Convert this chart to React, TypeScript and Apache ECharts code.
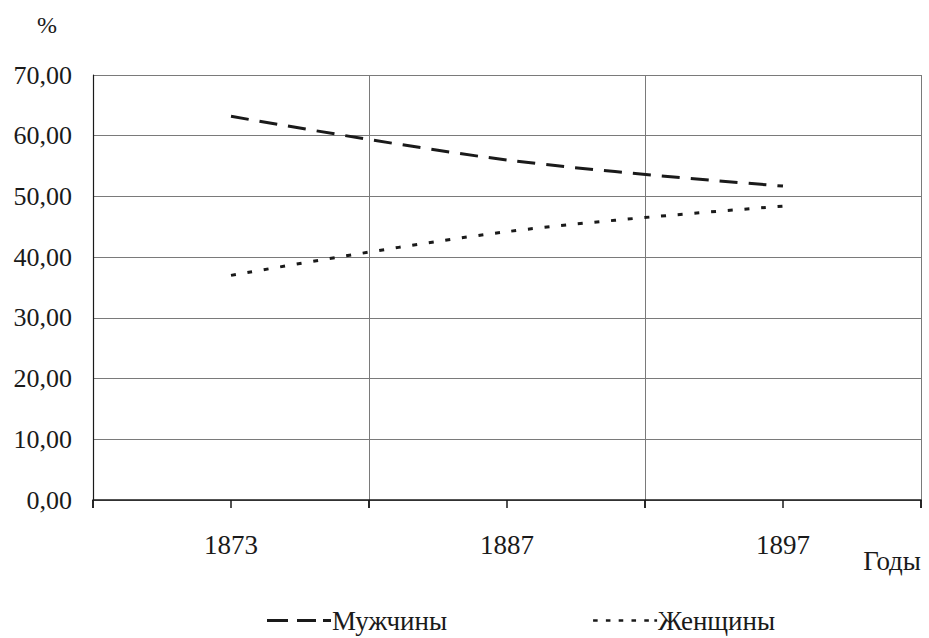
import React, { useEffect, useRef } from "react";
import * as echarts from "echarts";

const years = ["1873", "1887", "1897"];
const subTicks = ["", "", "", "", "", ""];
const men = [63.2, 56.0, 51.7];
const women = [37.0, 44.2, 48.4];
const yTicks = { min: 0, max: 70, interval: 10 };
const seriesNames = ["Мужчины", "Женщины"];
const FONT = "Liberation Serif, serif";

export default function App() {
  const ref = useRef<HTMLDivElement>(null);
  useEffect(() => {
    if (!ref.current) return;
    const chart = echarts.init(ref.current, null, { renderer: "svg" });
    const textStyle = { fontFamily: FONT, fontSize: 26, color: "#1a1a1a" };
    chart.setOption({
      animation: false,
      backgroundColor: "#ffffff",
      grid: { left: 93, right: 8, top: 75, bottom: 138 },
      xAxis: [
        {
          type: "category",
          data: years,
          position: "bottom",
          boundaryGap: true,
          axisLine: { show: true, lineStyle: { color: "#1a1a1a", width: 1.5 } },
          axisTick: { show: true, interval: 0, length: 8, lineStyle: { color: "#1a1a1a", width: 1.5 } },
          axisLabel: { ...textStyle, fontSize: 27, margin: 31, interval: 0 },
          splitLine: { show: true, interval: 0, lineStyle: { color: "#7a7a7a", width: 1 } },
        },
        {
          type: "category",
          data: subTicks,
          position: "bottom",
          boundaryGap: true,
          axisLine: { show: false },
          axisTick: { show: true, interval: 0, length: 8, lineStyle: { color: "#1a1a1a", width: 1.5 } },
          axisLabel: { show: false },
          splitLine: { show: false },
        },
      ],
      yAxis: {
        type: "value",
        min: yTicks.min,
        max: yTicks.max,
        interval: yTicks.interval,
        axisLine: { show: true, lineStyle: { color: "#1a1a1a", width: 1.2 } },
        axisTick: { show: false },
        axisLabel: {
          ...textStyle,
          margin: 21,
          formatter: (v: number) => v.toFixed(2).replace(".", ","),
        },
        splitLine: { show: true, lineStyle: { color: "#7a7a7a", width: 1 } },
      },
      legend: {
        left: 267,
        top: 607,
        padding: 0,
        itemGap: 146,
        itemWidth: 64,
        itemHeight: 3,
        textStyle: { ...textStyle, fontSize: 27, lineHeight: 26, padding: [0, 0, 0, -4] },
        data: [
          {
            name: seriesNames[0],
            icon: "path://M0,0h21v3h-21z M30,0h19v3h-19z M56,0h8v3h-8z",
          },
          {
            name: seriesNames[1],
            icon: "path://M0,0h5v3h-5z M14,0h5v3h-5z M28,0h5v3h-5z M42,0h5v3h-5z M56,0h5v3h-5z M67,0h3v3h-3z",
          },
        ],
      },
      series: [
        {
          name: seriesNames[0],
          type: "line",
          data: men,
          smooth: 0.35,
          showSymbol: false,
          symbol: "none",
          itemStyle: { color: "#1a1a1a" },
          lineStyle: { color: "#1a1a1a", width: 3, type: [18, 11] },
        },
        {
          name: seriesNames[1],
          type: "line",
          data: women,
          smooth: 0.35,
          showSymbol: false,
          symbol: "none",
          itemStyle: { color: "#1a1a1a" },
          lineStyle: { color: "#1a1a1a", width: 3, type: [5, 11.7] },
        },
      ],
      graphic: [
        {
          type: "text",
          left: 37,
          top: 13,
          style: { text: "%", fontFamily: FONT, fontSize: 24, fill: "#1a1a1a" },
        },
        {
          type: "text",
          right: 8,
          top: 547,
          style: { text: "Годы", fontFamily: FONT, fontSize: 27, fill: "#1a1a1a" },
        },
      ],
    });
    return () => chart.dispose();
  }, []);
  return <div ref={ref} style={{ width: 929, height: 638, position: "absolute", left: 0, top: 0 }} />;
}
